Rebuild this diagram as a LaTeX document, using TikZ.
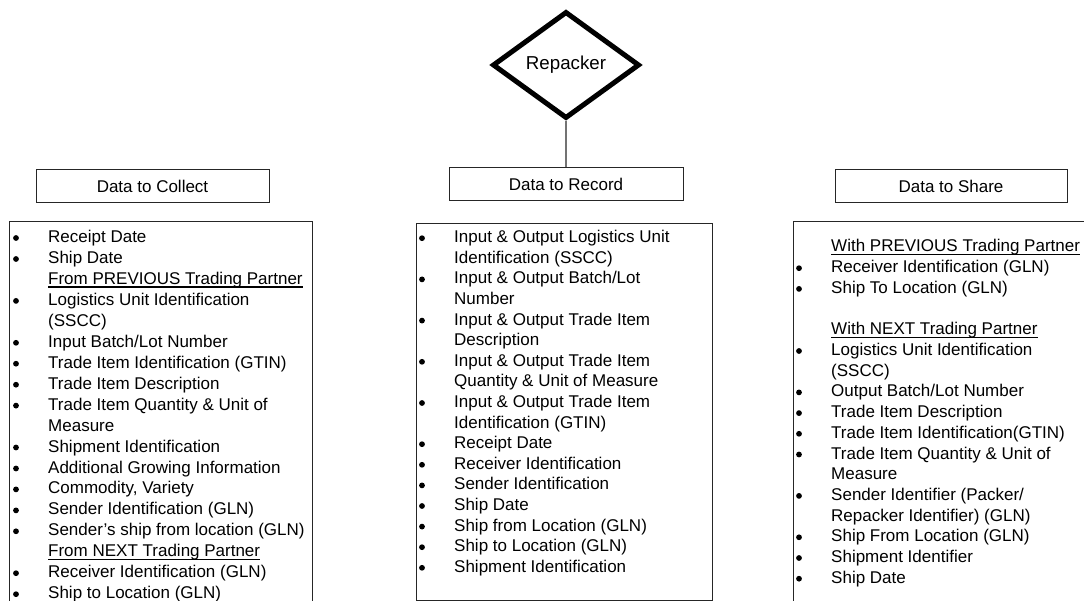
\documentclass[tikz,border=0pt]{standalone}
\usepackage{fontspec}
\setmainfont{Liberation Sans}
\usetikzlibrary{shapes.geometric}
\tikzset{
  txt/.style={anchor=base west, inner sep=0pt, font=\fontsize{17}{20}\selectfont, text=black},
  titlebox/.style={draw=black!85, line width=1pt, inner sep=0pt, font=\fontsize{17}{20}\selectfont},
  listbox/.style={draw=black!85, line width=1pt, inner sep=0pt, anchor=north west},
  bulletdot/.style={fill=black},
  uline/.style={draw=black, line width=1.1pt},
  link/.style={draw=black!55, line width=1.5pt}
}
\newcommand\bitem[4]{%
  \node[txt] (#1) at (#2,#3) {#4};
  \fill[bulletdot] ([xshift=-32pt,yshift=4.5pt]#1.base west) circle (2.9pt);}
\newcommand\citem[4]{\node[txt] (#1) at (#2,#3) {#4};}
\newcommand\hitem[4]{%
  \node[txt] (#1) at (#2,#3) {#4};
  \draw[uline] ([yshift=-2.6pt]#1.base west) -- ([yshift=-2.6pt]#1.base east);}
\begin{document}
\begin{tikzpicture}[x=1pt,y=-1pt]
\useasboundingbox (0,0) rectangle (1084,601);
\clip (0,0) rectangle (1084,601);

% top diamond
\node[diamond, draw=black, line width=5pt, minimum width=147pt, minimum height=107pt,
      inner sep=0pt, font=\fontsize{18.7}{22}\selectfont] (rep) at (566,65) {\raisebox{-2pt}{Repacker}};

% title boxes
\node[titlebox, minimum width=233pt, minimum height=33pt] (tcoll) at (152.5,186.5) {Data to Collect};
\node[titlebox, minimum width=234pt, minimum height=33pt] (trec) at (566,184.5) {Data to Record};
\node[titlebox, minimum width=232pt, minimum height=33pt] (tshare) at (951,186.5) {Data to Share};

\draw[link] (rep.south) -- (trec.north);

% list boxes
\node[listbox, minimum width=303pt, minimum height=392pt] (lcoll) at (9,221) {};
\node[listbox, minimum width=296pt, minimum height=377pt] (lrec) at (416,223) {};
\node[listbox, minimum width=300pt, minimum height=392pt] (lshare) at (793,221) {};

% Data to Collect
\bitem{c0}{48}{242.5}{Receipt Date}
\bitem{c1}{48}{263.5}{Ship Date}
\hitem{c2}{48}{284.4}{From PREVIOUS Trading Partner}
\bitem{c3}{48}{305.4}{Logistics Unit Identification}
\citem{c4}{48}{326.3}{(SSCC)}
\bitem{c5}{48}{347.3}{Input Batch/Lot Number}
\bitem{c6}{48}{368.2}{Trade Item Identification (GTIN)}
\bitem{c7}{48}{389.2}{Trade Item Description}
\bitem{c8}{48}{410.1}{Trade Item Quantity \& Unit of}
\citem{c9}{48}{431.1}{Measure}
\bitem{c10}{48}{452.0}{Shipment Identification}
\bitem{c11}{48}{473.0}{Additional Growing Information}
\bitem{c12}{48}{493.9}{Commodity, Variety}
\bitem{c13}{48}{514.9}{Sender Identification (GLN)}
\bitem{c14}{48}{535.8}{Sender’s ship from location (GLN)}
\hitem{c15}{48}{556.8}{From NEXT Trading Partner}
\bitem{c16}{48}{577.7}{Receiver Identification (GLN)}
\bitem{c17}{48}{598.7}{Ship to Location (GLN)}

% Data to Record
\bitem{r0}{454}{242.7}{Input \& Output Logistics Unit}
\citem{r1}{454}{263.3}{Identification (SSCC)}
\bitem{r2}{454}{283.9}{Input \& Output Batch/Lot}
\citem{r3}{454}{304.5}{Number}
\bitem{r4}{454}{325.1}{Input \& Output Trade Item}
\citem{r5}{454}{345.7}{Description}
\bitem{r6}{454}{366.3}{Input \& Output Trade Item}
\citem{r7}{454}{386.9}{Quantity \& Unit of Measure}
\bitem{r8}{454}{407.5}{Input \& Output Trade Item}
\citem{r9}{454}{428.1}{Identification (GTIN)}
\bitem{r10}{454}{448.7}{Receipt Date}
\bitem{r11}{454}{469.3}{Receiver Identification}
\bitem{r12}{454}{489.9}{Sender Identification}
\bitem{r13}{454}{510.5}{Ship Date}
\bitem{r14}{454}{531.1}{Ship from Location (GLN)}
\bitem{r15}{454}{551.7}{Ship to Location (GLN)}
\bitem{r16}{454}{572.3}{Shipment Identification}

% Data to Share
\hitem{s0}{831}{252.0}{With PREVIOUS Trading Partner}
\bitem{s1}{831}{272.7}{Receiver Identification (GLN)}
\bitem{s2}{831}{293.4}{Ship To Location (GLN)}
\hitem{s4}{831}{334.8}{With NEXT Trading Partner}
\bitem{s5}{831}{355.5}{Logistics Unit Identification}
\citem{s6}{831}{376.2}{(SSCC)}
\bitem{s7}{831}{396.9}{Output Batch/Lot Number}
\bitem{s8}{831}{417.6}{Trade Item Description}
\bitem{s9}{831}{438.3}{Trade Item Identification(GTIN)}
\bitem{s10}{831}{459.0}{Trade Item Quantity \& Unit of}
\citem{s11}{831}{479.7}{Measure}
\bitem{s12}{831}{500.4}{Sender Identifier (Packer/}
\citem{s13}{831}{521.1}{Repacker Identifier) (GLN)}
\bitem{s14}{831}{541.8}{Ship From Location (GLN)}
\bitem{s15}{831}{562.5}{Shipment Identifier}
\bitem{s16}{831}{583.2}{Ship Date}
\end{tikzpicture}
\end{document}
